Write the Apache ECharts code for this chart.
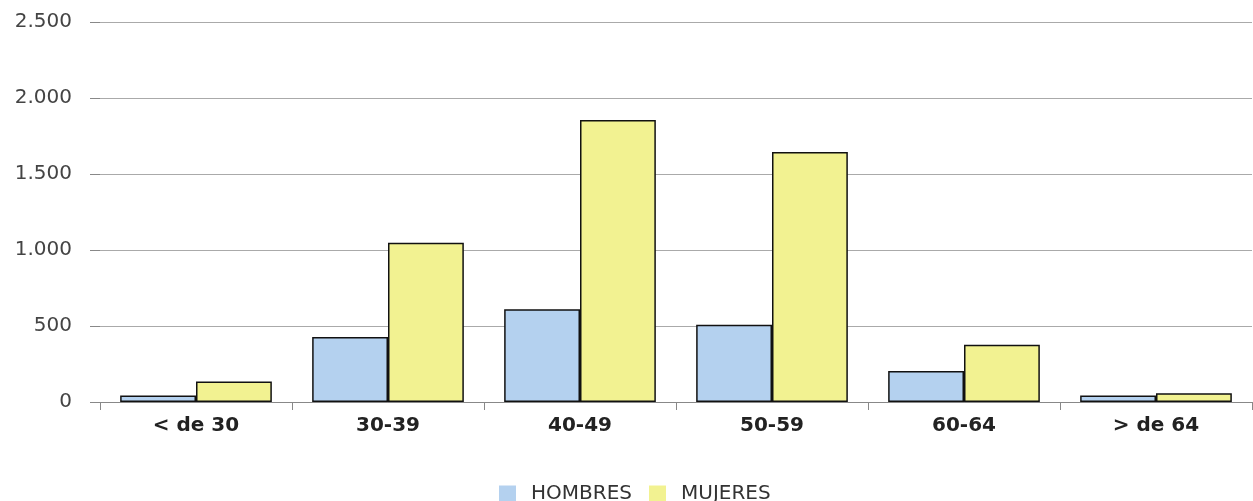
<!DOCTYPE html>
<html><head><meta charset="utf-8">
<script src="https://cdn.jsdelivr.net/npm/echarts@6/dist/echarts.min.js"></script>
<style>html,body{margin:0;padding:0;background:#fff}#c{width:1253px;height:501px}</style>
</head><body><div id="c"></div>
<script>
const categories = ['< de 30', '30-39', '40-49', '50-59', '60-64', '> de 64'];
const hombres = [42, 427, 611, 508, 204, 42];
const mujeres = [135, 1047, 1856, 1645, 376, 57];
const seriesNames = ['HOMBRES', 'MUJERES'];

const chart = echarts.init(document.getElementById('c'));
const fmt = v => v >= 1000 ? Math.floor(v/1000) + '.' + String(v%1000).padStart(3,'0') : String(v);
chart.setOption({
  animation: false,
  grid: { left: 100, right: 1, top: 22, bottom: 99 },
  legend: {
    top: 484, left: 499, padding: 0, itemWidth: 17, itemHeight: 17, itemGap: 17,
    icon: 'rect',
    itemStyle: { borderWidth: 0 },
    textStyle: { fontFamily: 'DejaVu Sans', fontSize: 20, lineHeight: 20, color: '#333', padding: [0, 0, 0, 10] },
    data: seriesNames
  },
  xAxis: {
    type: 'category', data: categories,
    axisLine: { lineStyle: { color: '#888', width: 1 } },
    axisTick: { show: true, length: 8, lineStyle: { color: '#888' } },
    axisLabel: { fontFamily: 'DejaVu Sans', fontWeight: 'bold', fontSize: 20, color: '#222', margin: 14 }
  },
  yAxis: {
    type: 'value', min: 0, max: 2500, interval: 500,
    axisLine: { show: false },
    axisTick: { show: true, length: 10, lineStyle: { color: '#888' } },
    splitLine: { lineStyle: { color: '#aaa', width: 1 } },
    axisLabel: { fontFamily: 'DejaVu Sans', fontSize: 20, color: '#444', margin: 28, formatter: fmt }
  },
  series: [
    { name: seriesNames[0], type: 'bar', data: hombres, barGap: '0%', barCategoryGap: '21%',
      itemStyle: { color: '#b4d1ef', borderColor: '#111', borderWidth: 1.5 } },
    { name: seriesNames[1], type: 'bar', data: mujeres,
      itemStyle: { color: '#f2f291', borderColor: '#111', borderWidth: 1.5 } }
  ]
});
</script></body></html>
